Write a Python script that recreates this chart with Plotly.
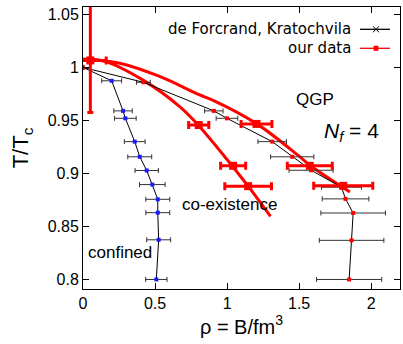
import plotly.graph_objects as go

# ---- data ----
# de Forcrand, Kratochvila: confined boundary (left)
left_rho = [0.0, 0.199, 0.278, 0.294, 0.359, 0.394, 0.442, 0.481, 0.519, 0.519, 0.525, 0.509]
left_T = [1.0, 0.9874, 0.959, 0.952, 0.930, 0.9157, 0.9028, 0.8895, 0.8756, 0.863, 0.8374, 0.80]
left_err = [0.0, 0.069, 0.064, 0.075, 0.072, 0.083, 0.081, 0.089, 0.083, 0.083, 0.083, 0.074]

# de Forcrand, Kratochvila: QGP boundary (right)
right_rho = [0.0, 0.419, 0.908, 0.999, 1.313, 1.452, 1.583, 1.794, 1.822, 1.875, 1.864, 1.847]
right_T = [1.0, 0.986, 0.959, 0.952, 0.930, 0.9157, 0.903, 0.887, 0.876, 0.8627, 0.8369, 0.80]
right_err = [0.0, 0.048, 0.064, 0.075, 0.099, 0.15, 0.153, 0.139, 0.162, 0.224, 0.224, 0.226]

# our data
red_rho = [0.051, 0.803, 1.204, 1.042, 1.146, 1.574, 1.806]
red_T = [1.0066, 0.9457, 0.9467, 0.9072, 0.888, 0.9072, 0.8883]
red_xerr = [0.11, 0.07, 0.107, 0.087, 0.162, 0.156, 0.205]
red_yerr_up = [0.052, 0, 0, 0, 0, 0, 0]
red_yerr_dn = [0.049, 0, 0, 0, 0, 0, 0]

# fitted curves
fitA_rho = [0.0, 0.15, 0.417, 0.671, 0.799, 1.03, 1.146, 1.301]
fitA_T = [1.0073, 1.0057, 0.988, 0.963, 0.9457, 0.908, 0.888, 0.8596]
fitB_rho = [0.0, 0.255, 0.532, 0.81, 0.903, 1.204, 1.493, 1.574, 1.852]
fitB_T = [1.008, 1.004, 0.9915, 0.974, 0.969, 0.947, 0.917, 0.9077, 0.8826]

x_ticks = [0, 0.5, 1, 1.5, 2]
x_ticklabels = ["0", "0.5", "1", "1.5", "2"]
y_ticks = [0.8, 0.85, 0.9, 0.95, 1.0, 1.05]
y_ticklabels = ["0.8", "0.85", "0.9", "0.95", "1", "1.05"]

RED = "#ff0000"
SANS = "Liberation Sans, Arial, sans-serif"

fig = go.Figure()

# fitted red curves
fig.add_trace(go.Scatter(x=fitA_rho, y=fitA_T, mode="lines",
                         line=dict(color=RED, width=3, shape="spline"), showlegend=False))
fig.add_trace(go.Scatter(x=fitB_rho, y=fitB_T, mode="lines",
                         line=dict(color=RED, width=3, shape="spline"), showlegend=False))

# black lines with error bars
fig.add_trace(go.Scatter(x=left_rho, y=left_T, mode="lines+markers",
                         line=dict(color="black", width=1),
                         marker=dict(color="#1a1aff", size=4, symbol="square"),
                         error_x=dict(type="data", array=left_err, color="#333333", thickness=1, width=2.5),
                         showlegend=False))
fig.add_trace(go.Scatter(x=right_rho, y=right_T, mode="lines+markers",
                         line=dict(color="black", width=1),
                         marker=dict(color=RED, size=4, symbol="square"),
                         error_x=dict(type="data", array=right_err, color="#333333", thickness=1, width=2.5),
                         showlegend=False))

# our data
fig.add_trace(go.Scatter(x=red_rho, y=red_T, mode="markers",
                         marker=dict(color=RED, size=8, symbol="square"),
                         error_x=dict(type="data", array=red_xerr, color=RED, thickness=3, width=4),
                         error_y=dict(type="data", symmetric=False, array=red_yerr_up,
                                      arrayminus=red_yerr_dn, color=RED, thickness=3, width=3),
                         showlegend=False))

# ---- manual legend (gnuplot style: text then sample) ----
W, H = 403, 344
ML, MR, MT, MB = 83, 3, 7, 55
PW, PH = W - ML - MR, H - MT - MB

def px(xp):
    return (xp - ML) / PW

def py(yp):
    return (H - MB - yp) / PH

shapes = []
annots = []
rows = [(29.3, "de Forcrand, Kratochvila", "black"), (48.3, "our data", RED)]
for yp, label, col in rows:
    annots.append(dict(x=px(353), y=py(yp), xref="paper", yref="paper", text=label,
                       showarrow=False, xanchor="right", yanchor="middle",
                       font=dict(family="DejaVu Sans", size=15, color="black")))
    shapes.append(dict(type="line", xref="paper", yref="paper", x0=px(360), x1=px(390),
                       y0=py(yp), y1=py(yp), line=dict(color=col, width=1.3)))
# x marker on black sample
shapes.append(dict(type="line", xref="paper", yref="paper", x0=px(373), x1=px(379),
                   y0=py(26.3), y1=py(32.3), line=dict(color="black", width=1)))
shapes.append(dict(type="line", xref="paper", yref="paper", x0=px(373), x1=px(379),
                   y0=py(32.3), y1=py(26.3), line=dict(color="black", width=1)))
# red square on red sample
shapes.append(dict(type="rect", xref="paper", yref="paper", x0=px(373.5), x1=px(378.5),
                   y0=py(50.8), y1=py(45.8), line=dict(width=0), fillcolor=RED))

# in-plot labels
annots += [
    dict(x=1.609, y=0.970, text="QGP", showarrow=False, xanchor="center", yanchor="middle",
         font=dict(family=SANS, size=17, color="black")),
    dict(x=1.866, y=0.9394, text="<i>N</i><sub><i>f</i></sub> = 4", showarrow=False,
         xanchor="center", yanchor="middle", font=dict(family=SANS, size=21, color="black")),
    dict(x=1.016, y=0.871, text="co-existence", showarrow=False, xanchor="center", yanchor="middle",
         font=dict(family=SANS, size=17, color="black")),
    dict(x=0.257, y=0.8258, text="confined", showarrow=False, xanchor="center", yanchor="middle",
         font=dict(family=SANS, size=17, color="black")),
]

fig.update_layout(
    width=W, height=H,
    margin=dict(l=ML, r=MR, t=MT, b=MB, pad=0, autoexpand=False),
    paper_bgcolor="white", plot_bgcolor="white",
    showlegend=False,
    shapes=shapes, annotations=annots,
    font=dict(family=SANS, size=16, color="black"),
)
fig.update_xaxes(range=[0, 2.2], tickvals=x_ticks, ticktext=x_ticklabels, automargin=False,
                 ticks="inside", ticklen=6, tickcolor="black", mirror="ticks",
                 showline=True, linecolor="black", linewidth=1, showgrid=False, zeroline=False,
                 tickfont=dict(family=SANS, size=16),
                 title=dict(text="ρ = B/fm<sup>3</sup>", font=dict(family=SANS, size=20), standoff=8))
fig.update_yaxes(range=[0.791, 1.057], tickvals=y_ticks, ticktext=y_ticklabels, automargin=False,
                 ticks="inside", ticklen=6, tickcolor="black", mirror="ticks",
                 showline=True, linecolor="black", linewidth=1, showgrid=False, zeroline=False,
                 tickfont=dict(family=SANS, size=16),
                 title=dict(text="T/T<sub>c</sub>", font=dict(family=SANS, size=22), standoff=12))

fig.write_html("out.html", config={"displayModeBar": False},
               post_script="document.body.style.margin='0px';document.body.style.overflow='hidden';")
